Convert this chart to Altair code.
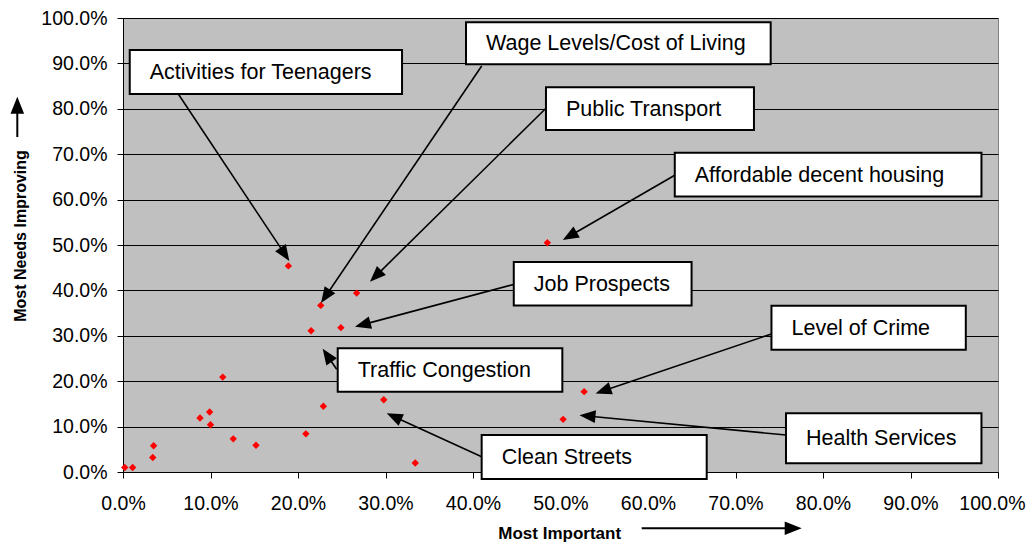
import math
import altair as alt
import pandas as pd

# ---------------- data ----------------
most_important = [0.002, 0.011, 0.035, 0.034, 0.088, 0.099, 0.100, 0.114, 0.126, 0.152, 0.189,
                  0.209, 0.215, 0.226, 0.229, 0.249, 0.267, 0.298, 0.334, 0.485, 0.527, 0.503]
most_needs_improving = [0.010, 0.010, 0.058, 0.032, 0.119, 0.132, 0.104, 0.209, 0.073, 0.059, 0.454,
                        0.084, 0.311, 0.367, 0.145, 0.318, 0.394, 0.159, 0.020, 0.505, 0.177, 0.116]

tick_values = [0.0, 0.1, 0.2, 0.3, 0.4, 0.5, 0.6, 0.7, 0.8, 0.9, 1.0]

# annotation labels and their callout boxes / arrows (in axis units)
labels = ["Activities for Teenagers", "Wage Levels/Cost of Living", "Public Transport",
          "Affordable decent housing", "Job Prospects", "Level of Crime", "Health Services",
          "Traffic Congestion", "Clean Streets"]
box_left = [0.0077, 0.3920, 0.4834, 0.6306, 0.4466, 0.7411, 0.7577, 0.2454, 0.4099]
box_right = [0.3189, 0.7402, 0.7211, 0.9811, 0.6498, 0.9632, 0.9811, 0.5021, 0.6671]
box_top = [0.9295, 0.9905, 0.8474, 0.7031, 0.4626, 0.3661, 0.1293, 0.2725, 0.0815]
box_bottom = [0.8326, 0.8980, 0.7533, 0.6070, 0.3667, 0.2692, 0.0192, 0.1769, -0.0154]
arrow_start_x = [0.0632, 0.4099, 0.4834, 0.6306, 0.4466, 0.7411, 0.7577, 0.2442, 0.4099]
arrow_start_y = [0.8326, 0.8943, 0.8011, 0.6535, 0.4132, 0.3040, 0.0815, 0.2262, 0.0337]
arrow_tip_x = [0.1901, 0.2263, 0.2823, 0.5026, 0.2651, 0.5401, 0.5217, 0.2282, 0.3014]
arrow_tip_y = [0.4648, 0.3722, 0.4192, 0.5110, 0.3200, 0.1731, 0.1251, 0.2716, 0.1293]

# ---------------- layout ----------------
W, H = 875, 454
FONT = "Liberation Sans"
ARROW = "M0,0 L-0.8,2 L0.8,2 Z"
HEAD_LEN = 13

points = pd.DataFrame({"important": most_important, "needs": most_needs_improving})

rows = []
for i, lab in enumerate(labels):
    sx, sy = arrow_start_x[i], arrow_start_y[i]
    tx, ty = arrow_tip_x[i], arrow_tip_y[i]
    dxp = (tx - sx) * W
    dyp = -(ty - sy) * H
    ln = math.hypot(dxp, dyp)
    ux, uy = dxp / ln, dyp / ln
    ang = math.degrees(math.atan2(dxp, -dyp)) % 360
    rows.append(dict(label=lab, x1=box_left[i], x2=box_right[i], y1=box_top[i], y2=box_bottom[i],
                     yc=(box_top[i] + box_bottom[i]) / 2, sx=sx, sy=sy, tx=tx, ty=ty,
                     ex=tx - ux * HEAD_LEN / W, ey=ty + uy * HEAD_LEN / H, angle=ang))
ann = pd.DataFrame(rows)

xscale = alt.Scale(domain=[0, 1], nice=False, zero=False)
yscale = alt.Scale(domain=[0, 1], nice=False, zero=False)
xaxis = alt.Axis(values=tick_values, format=".1%", title=None, grid=False, domainColor="black",
                 tickColor="black", tickSize=6, labelFont=FONT, labelFontSize=19.5, labelColor="black",
                 labelPadding=16, labelFlush=False, labelOverlap=False,
                 labelAlign={"condition": {"test": "datum.value >= 0.99", "value": "right"},
                             "value": "center"},
                 labelOffset={"condition": {"test": "datum.value >= 0.99", "value": 27},
                              "value": 0})
yaxis = alt.Axis(values=tick_values, format=".1%", title=None, grid=True, gridColor="black",
                 gridWidth=1, gridOpacity=1, domainColor="black", tickColor="black", tickSize=6,
                 labelFont=FONT, labelFontSize=19.5, labelColor="black", labelPadding=10,
                 labelOverlap=False)


def X(f):
    return alt.X(f, type="quantitative", scale=xscale, axis=xaxis)


def Y(f):
    return alt.Y(f, type="quantitative", scale=yscale, axis=yaxis)


pts = alt.Chart(points).mark_point(shape="diamond", filled=True, color="#FF0000", size=55,
                                   opacity=1).encode(x=X("important"), y=Y("needs"))

lines = alt.Chart(ann).mark_rule(color="black", strokeWidth=1.6).encode(
    x=X("sx"), y=Y("sy"), x2="ex:Q", y2="ey:Q")
heads = alt.Chart(ann).mark_point(shape=ARROW, filled=True, color="black", size=256, opacity=1,
                                  strokeWidth=0).encode(
    x=X("tx"), y=Y("ty"), angle=alt.Angle("angle:Q", scale=None))
boxes = alt.Chart(ann).mark_rect(fill="white", stroke="black", strokeWidth=2).encode(
    x=X("x1"), x2="x2:Q", y=Y("y1"), y2="y2:Q")
texts = alt.Chart(ann).mark_text(align="left", baseline="alphabetic", dx=20, dy=7, fontSize=21.5,
                                 font=FONT, color="black").encode(
    x=X("x1"), y=Y("yc"), text="label:N")

one = pd.DataFrame({"k": [0]})
xtitle = alt.Chart(one).mark_text(text="Most Important", font=FONT, fontSize=17, fontWeight="bold",
                                  align="center", baseline="alphabetic", color="black").encode(
    x=alt.value(436.7), y=alt.value(521))
ytitle = alt.Chart(one).mark_text(text="Most Needs Improving", font=FONT, fontSize=16,
                                  fontWeight="bold", align="center", baseline="alphabetic",
                                  angle=270, color="black").encode(
    x=alt.value(-97), y=alt.value(218))
xarrow = alt.Chart(one).mark_rule(color="black", strokeWidth=2).encode(
    x=alt.value(518.7), x2=alt.value(664), y=alt.value(510.3))
xhead = alt.Chart(one).mark_point(shape=ARROW, filled=True, color="black", size=289, opacity=1,
                                  strokeWidth=0, angle=90).encode(
    x=alt.value(678.7), y=alt.value(510.3))
yarrow = alt.Chart(one).mark_rule(color="black", strokeWidth=2).encode(
    x=alt.value(-105.7), y=alt.value(119), y2=alt.value(93))
yhead = alt.Chart(one).mark_point(shape=ARROW, filled=True, color="black", size=289, opacity=1,
                                  strokeWidth=0).encode(
    x=alt.value(-105.7), y=alt.value(78.7))

chart = alt.layer(pts, lines, heads, boxes, texts, xtitle, ytitle, xarrow, xhead, yarrow, yhead).properties(
    width=W, height=H,
    padding={"left": 115, "top": 10, "right": 28, "bottom": 72},
    autosize=alt.AutoSizeParams(type="none"),
    background="white",
).configure_view(fill="#C0C0C0", stroke="#808080", strokeWidth=1)

chart.save("out.html", embed_options={"renderer": "svg", "actions": False})
